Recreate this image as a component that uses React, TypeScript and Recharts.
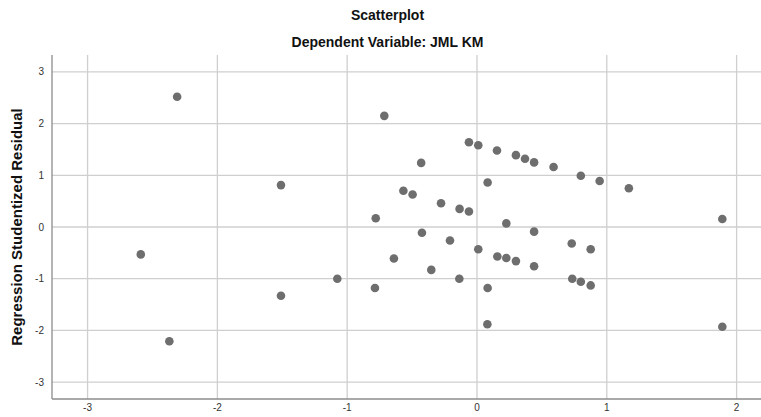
import { ScatterChart, Scatter, XAxis, YAxis, ReferenceLine } from 'recharts'

// predicted values (standardized) and studentized residuals
const predicted = [
  -2.31, -2.59, -2.37, -1.51, -1.51, -1.076, -0.786, -0.78, -0.714, -0.64,
  -0.567, -0.496, -0.43, -0.424, -0.352, -0.277, -0.208, -0.136, -0.134, -0.062,
  -0.062, 0.01, 0.01, 0.082, 0.082, 0.08, 0.154, 0.157, 0.226, 0.226,
  0.3, 0.3, 0.37, 0.44, 0.44, 0.44, 0.59, 0.73, 0.734, 0.8,
  0.8, 0.876, 0.876, 0.945, 1.17, 1.89, 1.89,
]
const residual = [
  2.52, -0.53, -2.21, 0.81, -1.33, -1.0, -1.18, 0.17, 2.15, -0.61,
  0.7, 0.63, 1.24, -0.11, -0.83, 0.46, -0.26, -1.0, 0.35, 1.64,
  0.3, 1.58, -0.43, 0.86, -1.18, -1.88, 1.48, -0.57, 0.07, -0.6,
  1.39, -0.66, 1.32, 1.25, -0.09, -0.76, 1.16, -0.32, -1.0, 0.99,
  -1.06, -0.43, -1.13, 0.89, 0.75, 0.155, -1.93,
]
const xTicks = [-3, -2, -1, 0, 1, 2]
const yTicks = [-3, -2, -1, 0, 1, 2, 3]

const points = predicted.map((x, i) => ({ x, y: residual[i] }))

const FONT = '"Liberation Sans", Arial, sans-serif'
const GRID = '#cfcfcf'
const AXIS = '#8c8c8c'

const YLabel = () => (
  <text
    x={22}
    y={227}
    transform="rotate(-90 22 227)"
    textAnchor="middle"
    fontFamily={FONT}
    fontWeight="bold"
    fontSize={15}
    fill="#111"
  >
    Regression Studentized Residual
  </text>
)

export default function App() {
  return (
    <div style={{ position: 'absolute', left: 0, top: 0, width: 761, height: 417, background: '#fff', overflow: 'hidden', fontFamily: FONT }}>
      <div style={{ position: 'absolute', left: 0, width: 775, top: 7, textAlign: 'center', fontWeight: 'bold', fontSize: 14, color: '#111' }}>
        Scatterplot
      </div>
      <div style={{ position: 'absolute', left: 0, width: 775, top: 34, textAlign: 'center', fontWeight: 'bold', fontSize: 14, color: '#111' }}>
        Dependent Variable: JML KM
      </div>
      <ScatterChart
        width={761}
        height={417}
        accessibilityLayer={false}
        margin={{ top: 55, right: 0, bottom: 0, left: 0 }}
        style={{ position: 'absolute', left: 0, top: 0, outline: 'none' }}
      >
        {xTicks.map((t) => (
          <ReferenceLine key={'vx' + t} x={t} stroke={GRID} strokeWidth={1.3} />
        ))}
        {yTicks.map((t) => (
          <ReferenceLine key={'hy' + t} y={t} stroke={GRID} strokeWidth={1.3} />
        ))}
        <XAxis
          type="number"
          dataKey="x"
          domain={[-3.274, 2.188]}
          ticks={xTicks}
          allowDataOverflow
          height={18}
          tickLine={false}
          tickSize={3}
          axisLine={{ stroke: AXIS, strokeWidth: 1.3 }}
          tick={{ fontSize: 10, fill: '#333', fontFamily: FONT }}
        />
        <YAxis
          type="number"
          dataKey="y"
          domain={[-3.327, 3.327]}
          ticks={yTicks}
          allowDataOverflow
          width={52}
          tickLine={false}
          axisLine={{ stroke: AXIS, strokeWidth: 1.3 }}
          tick={{ fontSize: 10, fill: '#333', fontFamily: FONT }}
          label={<YLabel />}
        />
        <Scatter data={points} fill="#6e6e6e" isAnimationActive={false} shape={(p: any) => <circle cx={p.cx} cy={p.cy} r={4.3} fill="#6e6e6e" />} />
      </ScatterChart>
    </div>
  )
}
